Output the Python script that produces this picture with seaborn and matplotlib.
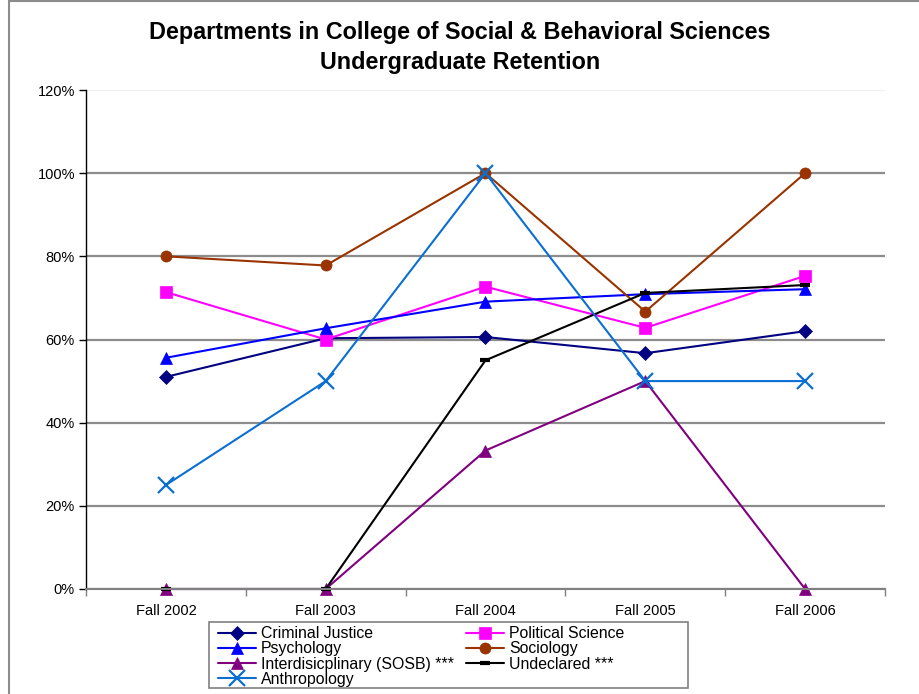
import matplotlib
matplotlib.use("Agg")
import matplotlib.pyplot as plt
from matplotlib.patches import Rectangle
from matplotlib.ticker import PercentFormatter
import pandas as pd
import seaborn as sns

terms = ["Fall 2002", "Fall 2003", "Fall 2004", "Fall 2005", "Fall 2006"]

criminal_justice = [51.0, 60.3, 60.6, 56.7, 62.0]
political_science = [71.4, 60.0, 72.7, 62.8, 75.3]
psychology = [55.6, 62.7, 69.1, 70.9, 72.1]
sociology = [80.0, 77.8, 100.0, 66.7, 100.0]
interdisciplinary = [0.0, 0.0, 33.3, 50.0, 0.0]
undeclared = [0.0, 0.0, 55.0, 71.2, 73.1]
anthropology = [25.0, 50.0, 100.0, 50.0, 50.0]

series = [
    ("Criminal Justice", criminal_justice, "#000080", "D", 7),
    ("Political Science", political_science, "#FF00FF", "s", 8),
    ("Psychology", psychology, "#0000FF", "^", 8.5),
    ("Sociology", sociology, "#993300", "o", 8),
    ("Interdisicplinary (SOSB) ***", interdisciplinary, "#800080", "^", 8.5),
    ("Undeclared ***", undeclared, "#000000", "_", 7),
    ("Anthropology", anthropology, "#0A6FD0", "x", 11),
]

sns.set_style("white")
plt.rcParams["font.family"] = ["Liberation Sans", "DejaVu Sans"]
plt.rcParams["text.color"] = "black"
plt.rcParams["xtick.labelcolor"] = "black"
plt.rcParams["ytick.labelcolor"] = "black"

fig = plt.figure(figsize=(9.2, 6.94), dpi=100)
ax = fig.add_axes([86 / 920, 1 - 589 / 694, 799 / 920, 499 / 694])

# outer chart-area frame
fig.patches.append(Rectangle((9 / 920, -0.05), 1.0, 1 - 1 / 694 + 0.05,
                             transform=fig.transFigure, fill=False,
                             edgecolor="#8c8c8c", linewidth=1.5, zorder=-5))

handles = {}
for name, values, color, marker, size in series:
    df = pd.DataFrame({"pos": range(len(terms)), "pct": values})
    sns.lineplot(data=df, x="pos", y="pct", color=color, marker=marker,
                 markersize=size, markeredgecolor=color,
                 markeredgewidth=3 if marker == "_" else (1.6 if marker == "x" else 0.5),
                 linewidth=1.5, ax=ax, label=name, legend=False, clip_on=False)
    handles[name] = ax.lines[-1]

ax.set_xlim(-0.5, len(terms) - 0.5)
ax.set_ylim(0, 120)
ax.set_yticks(range(0, 121, 20))
ax.yaxis.set_major_formatter(PercentFormatter(100, decimals=0))
ax.set_xticks([i - 0.5 for i in range(len(terms) + 1)])
ax.set_xticklabels([])
ax.set_xticks(range(len(terms)), terms, minor=True)
ax.tick_params(axis="x", which="major", length=5, width=1, color="#808080",
               direction="out", bottom=True)
ax.tick_params(axis="x", which="minor", length=0, labelsize=10.5, pad=11)
ax.tick_params(axis="y", length=5, width=1, color="black", direction="out",
               left=True, labelsize=10.5, pad=3)
ax.set_xlabel("")
ax.set_ylabel("")

ax.yaxis.grid(True, color="#8c8c8c", linewidth=1.6)
ax.get_ygridlines()[-1].set_color("#eeeeee")
ax.set_axisbelow(True)
for side in ["top", "right"]:
    ax.spines[side].set_visible(False)
ax.spines["left"].set_color("black")
ax.spines["left"].set_linewidth(1)
ax.spines["bottom"].set_color("#808080")
ax.spines["bottom"].set_linewidth(1.5)

fig.text(0.5, 1 - 33 / 694, "Departments in College of Social & Behavioral Sciences",
         ha="center", va="center", fontsize=16.8, fontweight="bold")
fig.text(0.5, 1 - 63 / 694, "Undergraduate Retention",
         ha="center", va="center", fontsize=16.8, fontweight="bold")

order = ["Criminal Justice", "Psychology", "Interdisicplinary (SOSB) ***",
         "Anthropology", "Political Science", "Sociology", "Undeclared ***"]
leg = fig.legend([handles[n] for n in order], order, ncol=2,
                 loc="lower left", bbox_to_anchor=(218 / 920, 7 / 694),
                 frameon=False, fontsize=11.4, labelspacing=0.02,
                 handlelength=2.4, handletextpad=0.3, columnspacing=0.8,
                 borderpad=0.0, borderaxespad=0, numpoints=1)
# legend box as drawn in the reference
fig.patches.append(Rectangle((209 / 920, 1 - 688 / 694), 479 / 920, 66 / 694,
                             transform=fig.transFigure, fill=True,
                             facecolor="white", edgecolor="#808080",
                             linewidth=1.2, zorder=-1))

fig.savefig("out.png", dpi=100, facecolor="white")
